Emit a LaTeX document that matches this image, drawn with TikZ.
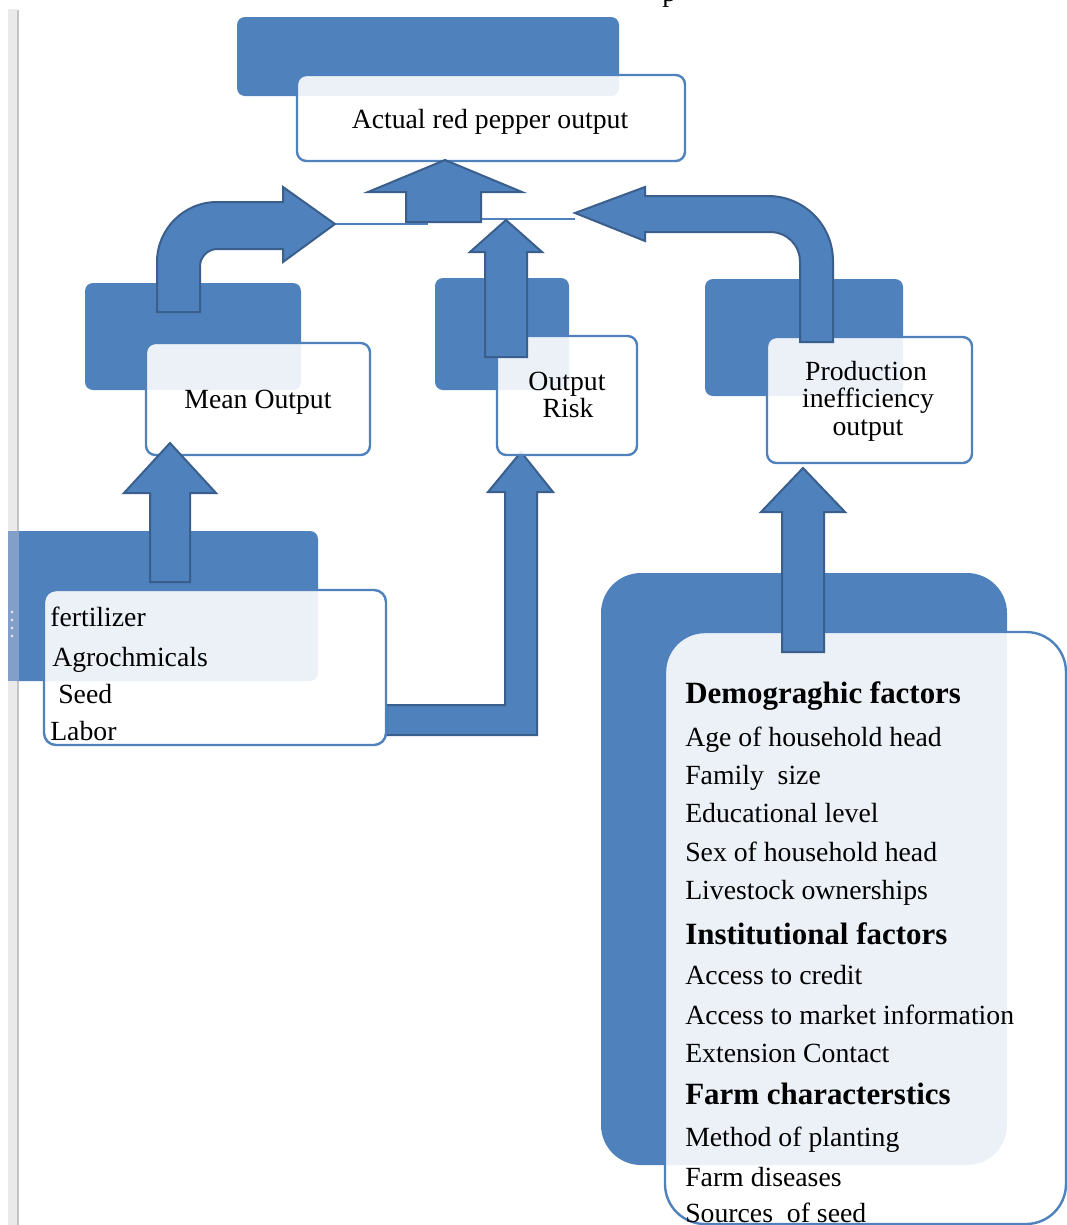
\documentclass[tikz,border=0pt]{standalone}
\usepackage{fontspec}
\setmainfont{Liberation Serif}
\usetikzlibrary{fit}
\definecolor{bl}{HTML}{4F81BD}
\definecolor{bld}{HTML}{3A5F8C}
\definecolor{strip}{HTML}{819FC9}
\definecolor{edge}{HTML}{EAEAEA}
\definecolor{edgeline}{HTML}{C4C4C4}
\begin{document}
\begin{tikzpicture}[x=0.75pt,y=-0.75pt,
 backbox/.style={fill=bl,draw=none,rounded corners=6pt,inner sep=0pt},
 frontbox/.style={fill=white,fill opacity=0.89,draw=bl,line width=1.8pt,rounded corners=7pt,inner sep=0pt},
 blockarrow/.style={fill=bl,draw=bld,line width=1.5pt,line join=miter},
 thinline/.style={draw=bl,line width=1.5pt},
 lbl/.style={font=\fontsize{20.8}{21}\selectfont,inner sep=0pt},
 hdr/.style={font=\fontsize{23.2}{24}\selectfont\bfseries,inner sep=0pt},
]
\clip (0,0) rectangle (1067,1225);
\fill[white] (0,0) rectangle (1067,1225);
% page edge
\fill[edge] (8,9) rectangle (17,1225);
\draw[edgeline,line width=1.5pt] (18,10) -- (18,1225);
\node[lbl,anchor=base west] (pcut) at (662,1) {p};
% back boxes
\node[backbox,fit={(237,17)(619,96)}] (topB) {};
\node[backbox,fit={(85,283)(301,390)}] (meanB) {};
\node[backbox,fit={(435,278)(569,390)}] (riskB) {};
\node[backbox,fit={(705,279)(903,396)}] (prodB) {};
\node[backbox,fit={(8,531)(318,681)}] (inB) {};
\node[backbox,rounded corners=30pt,fit={(601,573)(1007,1165)}] (factB) {};
\fill[strip] (8,531) rectangle (19,681);
\foreach \yy in {612,620,628,636} \fill[white!75!gray] (12,\yy) circle (1.3pt);
% bent arrow inputs -> risk
\draw[blockarrow] (386,705) -- (505,705) -- (505,492) -- (488,492) -- (521,452) -- (553,492) -- (537,492) -- (537,735) -- (386,735) -- cycle;
% front boxes
\node[frontbox,fit={(297,75)(685,161)}] (topF) {};
\node[frontbox,fit={(146,343)(370,455)}] (meanF) {};
\node[frontbox,fit={(497,336)(637,455)}] (riskF) {};
\node[frontbox,fit={(767,337)(972,463)}] (prodF) {};
\node[frontbox,rounded corners=9pt,fit={(44,590)(386,745)}] (inF) {};
\node[frontbox,rounded corners=30pt,fit={(665,632)(1066,1224)}] (factF) {};
% thin lines
\draw[thinline] (335,224) -- (428,224);
\draw[thinline] (482,219) -- (575,219);
% block arrows
\draw[blockarrow] (406,222) -- (406,192) -- (368,192) -- (445,160) -- (522,192) -- (481,192) -- (481,222) -- cycle;
\draw[blockarrow] (157,312) -- (157,262) .. controls (157,229) and (184,202) .. (217,202) -- (283,202) -- (283,187) -- (335,224) -- (283,262) -- (283,249) -- (217,249) .. controls (208,249) and (200,257) .. (200,266) -- (200,312) -- cycle;
\draw[blockarrow] (800,342) -- (800,262) .. controls (800,245) and (787,232) .. (770,232) -- (645,232) -- (645,241) -- (575,213) -- (645,187) -- (645,196) -- (768,196) .. controls (804,196) and (833,225) .. (833,261) -- (833,342) -- cycle;
\draw[blockarrow] (485,357) -- (485,252) -- (470,252) -- (506,220) -- (542,252) -- (527,252) -- (527,357) -- cycle;
\draw[blockarrow] (150,582) -- (150,493) -- (124,493) -- (170,443) -- (216,493) -- (190,493) -- (190,582) -- cycle;
\draw[blockarrow] (782,652) -- (782,512) -- (761,512) -- (803,468) -- (845,512) -- (824,512) -- (824,652) -- cycle;
% texts
\node[lbl,anchor=base] (tTop) at (490,128) {Actual red pepper output};
\node[lbl,anchor=base] (tMean) at (258,408) {Mean Output};
\node[lbl,anchor=base] (tRisk1) at (567,390) {Output};
\node[lbl,anchor=base] (tRisk2) at (568,417) {Risk};
\node[lbl,anchor=base] (tProd1) at (866,380) {Production};
\node[lbl,anchor=base] (tProd2) at (868,407) {inefficiency};
\node[lbl,anchor=base] (tProd3) at (868,435) {output};
\node[lbl,anchor=base west] (tIn1) at (50,626) {fertilizer};
\node[lbl,anchor=base west] (tIn2) at (52,666) {Agrochmicals};
\node[lbl,anchor=base west] (tIn3) at (58,703) {Seed};
\node[lbl,anchor=base west] (tIn4) at (50,740) {Labor};
\node[hdr,anchor=base west] (h1) at (685,703) {Demograghic factors};
\node[lbl,anchor=base west] (f1) at (685,746) {Age of household head};
\node[lbl,anchor=base west] (f2) at (685,784) {Family\ \ size};
\node[lbl,anchor=base west] (f3) at (685,822) {Educational level};
\node[lbl,anchor=base west] (f4) at (685,861) {Sex of household head};
\node[lbl,anchor=base west] (f5) at (685,899) {Livestock ownerships};
\node[hdr,anchor=base west] (h2) at (685,944) {Institutional factors};
\node[lbl,anchor=base west] (f6) at (685,984) {Access to credit};
\node[lbl,anchor=base west] (f7) at (685,1024) {Access to market information};
\node[lbl,anchor=base west] (f8) at (685,1062) {Extension Contact};
\node[hdr,anchor=base west] (h3) at (685,1104) {Farm characterstics};
\node[lbl,anchor=base west] (f9) at (685,1146) {Method of planting};
\node[lbl,anchor=base west] (f10) at (685,1186) {Farm diseases};
\node[lbl,anchor=base west] (f11) at (685,1222) {Sources\ \ of seed};
\end{tikzpicture}
\end{document}
